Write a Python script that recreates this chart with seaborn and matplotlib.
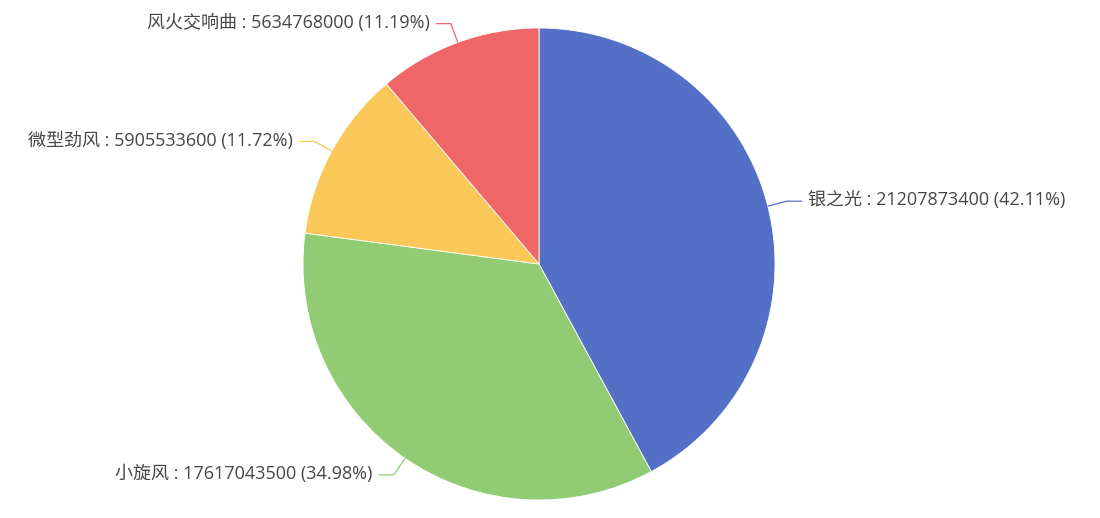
import numpy as np
import matplotlib
matplotlib.use("Agg")
import matplotlib.pyplot as plt
import seaborn as sns

names = ['银之光', '小旋风', '微型劲风', '风火交响曲']
values = [21207873400, 17617043500, 5905533600, 5634768000]
percents = [42.11, 34.98, 11.72, 11.19]
colors = ['#5470c6', '#91cc75', '#fac858', '#ee6666']

sns.set_theme(style="white")
plt.rcParams['font.family'] = ['Open Sans', 'Noto Sans CJK SC', 'DejaVu Sans']

W, H = 1100, 518
fig = plt.figure(figsize=(W / 100, H / 100), dpi=100)
ax = fig.add_axes([0, 0, 1, 1])

cx, cy, r = 539, H - 264, 236
pal = sns.color_palette(colors)
ax.pie(values, colors=pal, startangle=90, counterclock=False,
       center=(cx, cy), radius=r, frame=True,
       wedgeprops=dict(edgecolor='white', linewidth=0.6))
ax.set_xlim(0, W)
ax.set_ylim(0, H)
ax.set_aspect('equal')
ax.axis('off')

total = sum(values)
cum = 0
for name, v, p, c in zip(names, values, percents, colors):
    mid = (cum + v / 2) / total * 2 * np.pi
    cum += v
    sx, sy = np.sin(mid), np.cos(mid)
    x0, y0 = cx + r * sx, cy + r * sy
    x1, y1 = cx + (r + 20) * sx, cy + (r + 20) * sy
    side = 1 if sx >= 0 else -1
    x2 = x1 + side * 15
    ax.plot([x0, x1, x2], [y0, y1, y1], color=c, lw=0.9, solid_capstyle='butt')
    label = f'{name} : {v} ({p:.2f}%)'
    ax.text(x2 + side * 6, y1 + 1, label, ha='left' if side > 0 else 'right',
            va='center', fontsize=13, color='#464646')

fig.savefig('out.png', dpi=100)
